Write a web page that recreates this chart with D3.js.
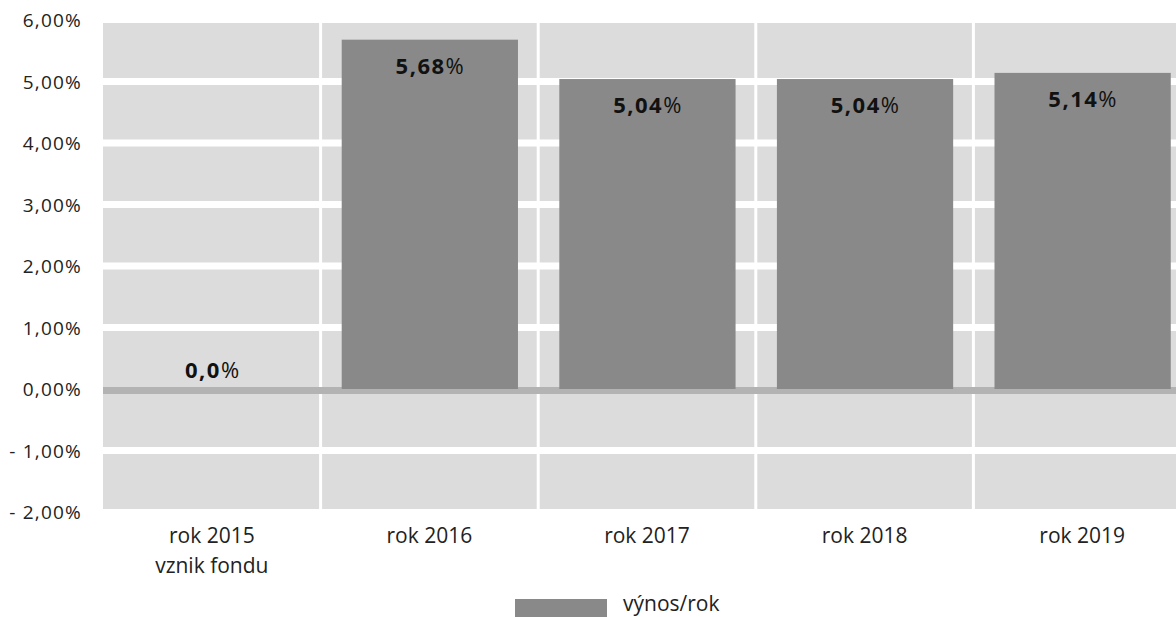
<!DOCTYPE html>
<html>
<head>
<meta charset="utf-8">
<script src="https://cdn.jsdelivr.net/npm/d3@7"></script>
<style>
  body { margin: 0; background: #fff; overflow: hidden; }
  svg { display: block; }
  svg text { font-family: "Open Sans", sans-serif; fill: #222; }
</style>
</head>
<body>
<div id="chart"></div>
<script>
// data
var years = ["rok 2015", "rok 2016", "rok 2017", "rok 2018", "rok 2019"];
var subLabels = ["vznik fondu", "", "", "", ""];
var returns = [0.0, 5.68, 5.04, 5.04, 5.14];
var valueLabels = ["0,0", "5,68", "5,04", "5,04", "5,14"];
var yTicks = [6, 5, 4, 3, 2, 1, 0, -1, -2];
var seriesName = "výnos/rok";

var svgWidth = 1176;
var svgHeight = 617;

var svg = d3.select("#chart")
  .append("svg")
  .attr("width", svgWidth)
  .attr("height", svgHeight);

var x = d3.scaleBand()
  .domain(years)
  .range([103, 1191])
  .padding(0);

var y = d3.scaleLinear()
  .domain([-2, 6])
  .range([512, 20]);

var bw = x.bandwidth();

// grey background
svg.append("rect")
  .attr("x", 103)
  .attr("y", y(6) + 3)
  .attr("width", 1191 - 103)
  .attr("height", y(-2) - y(6) - 6)
  .attr("fill", "#dcdcdc");

// horizontal white gridlines
svg.selectAll(".hgrid")
  .data(yTicks.filter(d => d !== 6 && d !== -2 && d !== 0))
  .enter()
  .append("line")
  .attr("x1", 103)
  .attr("x2", 1191)
  .attr("y1", d => y(d))
  .attr("y2", d => y(d))
  .attr("stroke", "#fff")
  .attr("stroke-width", 7);

// vertical white separators
svg.selectAll(".vgrid")
  .data(years.slice(1))
  .enter()
  .append("line")
  .attr("x1", d => x(d))
  .attr("x2", d => x(d))
  .attr("y1", y(6))
  .attr("y2", y(-2))
  .attr("stroke", "#fff")
  .attr("stroke-width", 3);

// zero line
svg.append("line")
  .attr("x1", 103)
  .attr("x2", 1191)
  .attr("y1", y(0) + 1.5)
  .attr("y2", y(0) + 1.5)
  .attr("stroke", "#b3b3b3")
  .attr("stroke-width", 7);

// bars
svg.selectAll(".bar")
  .data(returns)
  .enter()
  .append("rect")
  .attr("x", (d, i) => x(years[i]) + bw * 0.097)
  .attr("width", bw * 0.81)
  .attr("y", d => y(Math.max(0, d)))
  .attr("height", d => Math.abs(y(d) - y(0)))
  .attr("fill", "#898989");

// value labels
var vl = svg.selectAll(".vlabel")
  .data(returns)
  .enter()
  .append("text")
  .attr("x", (d, i) => x(years[i]) + bw / 2 + 1)
  .attr("y", d => d > 0 ? y(d) + 34 : y(0) - 11)
  .attr("text-anchor", "middle")
  .style("font-size", "22px")
  .style("letter-spacing", "1.5px");
vl.append("tspan")
  .style("font-weight", "bold")
  .style("fill", "#111")
  .text((d, i) => valueLabels[i]);
vl.append("tspan")
  .style("fill", "#111")
  .text("%");

// y axis labels
svg.selectAll(".ylabel")
  .data(yTicks)
  .enter()
  .append("text")
  .attr("x", 82)
  .attr("y", d => y(d) + 7)
  .attr("text-anchor", "end")
  .style("font-size", "19px")
  .style("letter-spacing", "1.2px")
  .text(d => (d < 0 ? "- " + d3.format(".2f")(-d) : d3.format(".2f")(d)).replace(".", ",") + "%");

// x axis labels
svg.selectAll(".xlabel")
  .data(years)
  .enter()
  .append("text")
  .attr("x", d => x(d) + bw / 2)
  .attr("y", 543)
  .attr("text-anchor", "middle")
  .style("font-size", "21px")
  .text(d => d);

svg.selectAll(".xsub")
  .data(subLabels)
  .enter()
  .append("text")
  .attr("x", (d, i) => x(years[i]) + bw / 2)
  .attr("y", 573)
  .attr("text-anchor", "middle")
  .style("font-size", "21px")
  .text(d => d);

// legend
svg.append("rect")
  .attr("x", 515)
  .attr("y", 599)
  .attr("width", 92)
  .attr("height", 18)
  .attr("fill", "#898989");

svg.append("text")
  .attr("x", 623)
  .attr("y", 611)
  .style("font-size", "21px")
  .text(seriesName);
</script>
</body>
</html>
